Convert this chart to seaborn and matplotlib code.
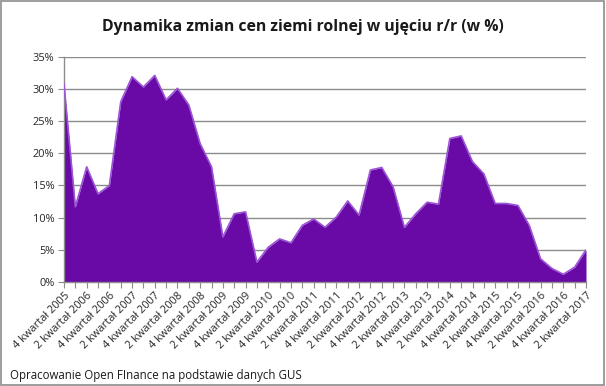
import numpy as np
import pandas as pd
import matplotlib
matplotlib.use("Agg")
import matplotlib.pyplot as plt
from matplotlib.ticker import FuncFormatter, MultipleLocator
from matplotlib.patches import Rectangle
import seaborn as sns


# Quarterly data: 4 kwartal 2005 .. 2 kwartal 2017
QUARTERS = [4] + [1, 2, 3, 4] * 11 + [1, 2]
YEARS    = [2005] + [y for y in range(2006, 2017) for _ in range(4)] + [2017, 2017]
CHANGE_PCT = [
    30.8, 11.7, 17.9, 13.7, 15.0, 28.0, 31.9, 30.3, 32.1, 28.3,
    30.1, 27.5, 21.5, 17.9, 7.0, 10.6, 10.9, 3.1, 5.4, 6.7,
    6.1, 8.8, 9.8, 8.5, 10.1, 12.6, 10.4, 17.4, 17.8, 14.8,
    8.5, 10.6, 12.4, 12.1, 22.3, 22.7, 18.7, 16.8, 12.2, 12.2,
    11.9, 8.8, 3.6, 2.1, 1.2, 2.3, 5.0,
]

TITLE  = "Dynamika zmian cen ziemi rolnej w ujęciu r/r (w %)"
SOURCE = "Opracowanie Open FInance na podstawie danych GUS"

FILL   = "#6A0AA6"
EDGE   = "#9B55D6"
GRID   = "#8C8C8C"


def main():
    df = pd.DataFrame({
        "kwartal": QUARTERS,
        "rok": YEARS,
        "zmiana": CHANGE_PCT,
    })
    df["pos"] = np.arange(len(df))
    df["label"] = [f"{q} kwartał {y}" for q, y in zip(df["kwartal"], df["rok"])]

    sns.set_theme(style="white")
    plt.rcParams["font.family"] = ["Open Sans", "DejaVu Sans"]

    fig = plt.figure(figsize=(6.06, 3.86), dpi=100)
    ax = fig.add_axes([0.1056, 0.2694, 0.8614, 0.5836])

    ax.fill_between(df["pos"], df["zmiana"], 0, color=FILL, lw=0, zorder=2)
    sns.lineplot(data=df, x="pos", y="zmiana", color=EDGE, lw=1.2,
                 ax=ax, zorder=3)

    ax.set_xlim(0, len(df) - 1)
    ax.set_ylim(0, 35)
    ax.yaxis.set_major_locator(MultipleLocator(5))
    ax.yaxis.set_major_formatter(FuncFormatter(lambda v, _: f"{v:.0f}%"))
    ax.yaxis.grid(True, color=GRID, lw=1, zorder=1)
    ax.set_axisbelow(True)

    ax.set_xticks(df["pos"])
    ax.set_xticklabels([lab if i % 2 == 0 else "" for i, lab in enumerate(df["label"])],
                       rotation=45, ha="right", rotation_mode="anchor",
                       fontsize=7.9)
    ax.tick_params(axis="x", length=4, width=0.8, color=GRID, pad=2, bottom=True)
    ax.tick_params(axis="y", length=4, width=0.8, color=GRID, labelsize=7.9,
                   pad=3, left=True)
    ax.set_xlabel("")
    ax.set_ylabel("")

    for side in ["top", "right"]:
        ax.spines[side].set_visible(False)
    for side in ["left", "bottom"]:
        ax.spines[side].set_color(GRID)
        ax.spines[side].set_linewidth(1)

    fig.text(0.5, 0.93, TITLE, ha="center", va="center",
             fontsize=11.3, fontweight="bold", color="#1a1a1a")
    fig.text(0.017, 0.026, SOURCE, ha="left", va="center",
             fontsize=8.3, color="#1a1a1a")

    fig.patches.append(Rectangle((0.002, 0.003), 0.995, 0.994,
                                 transform=fig.transFigure, fill=False,
                                 edgecolor="#8C8C8C", lw=1.2))

    fig.savefig("out.png", dpi=100)
    plt.close(fig)


if __name__ == "__main__":
    main()
